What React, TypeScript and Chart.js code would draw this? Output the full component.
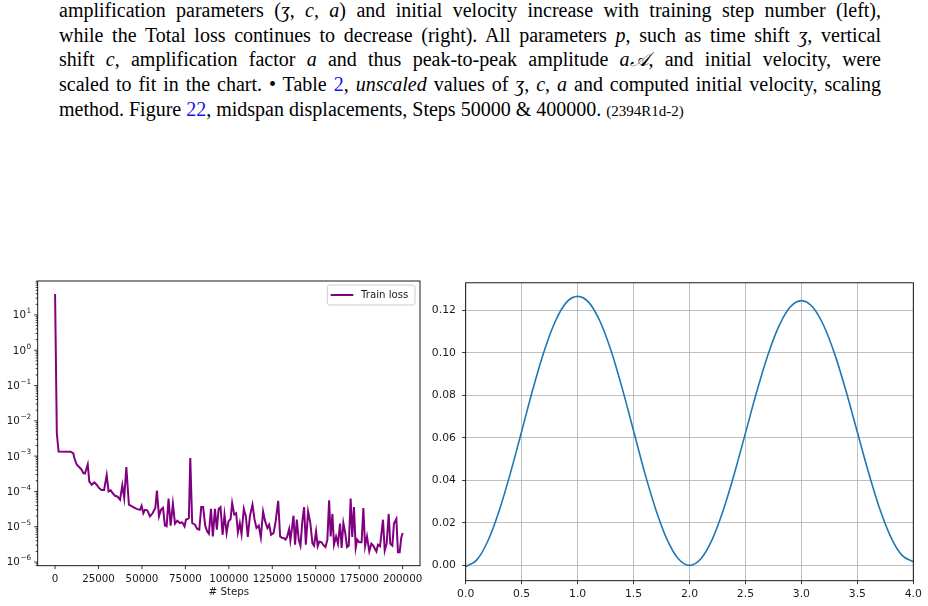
import React, { useEffect, useLayoutEffect, useRef } from 'react';
import { Chart, registerables } from 'chart.js';

Chart.register(...registerables);

// ---------------- data ----------------
const lossSteps = [
  0, 1000, 2000, 9000, 10500, 11100, 12500, 14400, 15300, 16300,
  17200, 18800, 19700, 21100, 22600, 23900, 25300, 26800, 28200, 29700,
  30800, 32000, 33100, 34500, 35800, 37400, 38700, 39800, 41000, 42500,
  45000, 46900, 48900, 49800, 50800, 51700, 53100, 54600, 56100, 57700,
  58600, 59800, 60900, 62100, 63200, 64200, 65300, 66500, 67800, 69000,
  70300, 71800, 73200, 74500, 75300, 76200, 77000, 77800, 78900, 80500,
  81800, 83000, 84100, 85200, 86400, 87500, 88500, 89700, 90800, 92000,
  93100, 94100, 95200, 96400, 97500, 98700, 99800, 101000, 101900, 103100,
  104200, 105200, 106300, 107300, 108600, 109800, 110900, 112100, 113600, 114800,
  115900, 117200, 118400, 119700, 120900, 122200, 123200, 124300, 125700, 126800,
  128400, 129500, 130700, 131600, 132600, 133500, 134700, 135400, 136400, 137200,
  138100, 139100, 140200, 141200, 142300, 143300, 144300, 145600, 146900, 148100,
  149000, 150200, 151100, 152100, 153300, 154200, 155600, 156700, 157700, 158600,
  159600, 160500, 161700, 162800, 164000, 164900, 165900, 167000, 168000, 169000,
  170100, 171000, 172000, 173000, 173900, 175100, 176400, 177400, 178400, 179500,
  180800, 182000, 183100, 184900, 185800, 187000, 188700, 189700, 190800, 192000,
  192900, 194100, 195000, 196400, 197300, 198300, 199200, 200000,
];
const trainLoss = [
  39.4, 4.5e-3, 1.35e-3, 1.33e-3, 1.2e-3, 8.8e-4, 5.7e-4, 4.6e-4, 4.1e-4, 3.3e-4,
  3.2e-4, 5.8e-4, 1.9e-4, 1.55e-4, 1.8e-4, 1.55e-4, 1.25e-4, 1.1e-4, 1.1e-4, 2.9e-4,
  1.0e-4, 1.07e-4, 9.0e-5, 7.5e-5, 7.2e-5, 5.8e-5, 1.5e-4, 6.5e-5, 4.9e-4, 4.2e-5,
  3.6e-5, 3.2e-5, 3.0e-5, 3.9e-5, 2.4e-5, 3.0e-5, 2.9e-5, 1.96e-5, 2.4e-5, 3.4e-5,
  1.05e-4, 1.96e-5, 3.0e-5, 3.4e-5, 1.07e-5, 1.02e-5, 6.3e-5, 1.07e-5, 4.5e-5, 1.22e-5,
  1.48e-5, 1.27e-5, 1.33e-5, 1.02e-5, 1.58e-5, 1.65e-5, 1.76e-5, 8.8e-4, 1.27e-5, 1.14e-5,
  8.6e-6, 8.2e-6, 3.6e-5, 3.6e-5, 1.07e-5, 7.4e-6, 6.3e-6, 3.2e-5, 5.3e-6, 3.2e-5,
  8.2e-6, 3.2e-5, 3.6e-5, 5.9e-6, 2.2e-5, 6.6e-6, 1.41e-5, 1.65e-5, 4.7e-5, 2.2e-5,
  2.4e-5, 6.9e-6, 1.27e-5, 6.2e-6, 3.2e-5, 1.96e-5, 5.1e-6, 1.96e-5, 4.2e-5, 1.58e-5,
  9.2e-6, 1.07e-5, 5.0e-6, 2.7e-5, 1.41e-5, 9.2e-6, 1.14e-5, 5.9e-6, 6.6e-6, 1.27e-5,
  5.4e-5, 5.3e-6, 4.8e-6, 4.8e-6, 4.3e-6, 5.1e-6, 8.6e-6, 4.1e-6, 9.8e-6, 2.05e-5,
  3.1e-6, 1.58e-5, 4.3e-6, 2.9e-6, 1.41e-5, 3.6e-5, 3.1e-6, 2.7e-5, 1.27e-5, 3.4e-6,
  2.9e-6, 7.4e-6, 2.8e-6, 3.8e-6, 3.6e-6, 3.1e-6, 2.65e-6, 4.3e-6, 5.6e-5, 5.3e-6,
  2.3e-5, 3.1e-6, 5.3e-6, 3.3e-6, 1.22e-5, 2.5e-6, 1.27e-5, 6.6e-6, 2.65e-6, 2.9e-6,
  6.3e-5, 5.1e-6, 3.6e-5, 2.5e-6, 4.3e-6, 3.6e-6, 3.6e-6, 3.4e-5, 2.8e-6, 5.3e-6,
  2.0e-6, 3.3e-6, 2.9e-6, 2.0e-6, 3.1e-6, 2.8e-6, 1.58e-5, 2.1e-6, 3.3e-6, 2.3e-5,
  3.3e-6, 2.9e-6, 1.22e-5, 1.65e-5, 1.9e-6, 1.9e-6, 4.8e-6, 6.6e-6,
];
const stepTicks = [0, 25000, 50000, 75000, 100000, 125000, 150000, 175000, 200000];
const lossTickExponents = [-6, -5, -4, -3, -2, -1, 0, 1];

const dispTime = [
  0.0, 0.1, 0.2, 0.3, 0.4, 0.5, 0.6, 0.7, 0.8, 0.9,
  1.0, 1.1, 1.2, 1.3, 1.4, 1.5, 1.6, 1.7, 1.8, 1.9,
  2.0, 2.1, 2.2, 2.3, 2.4, 2.5, 2.6, 2.7, 2.8, 2.9,
  3.0, 3.1, 3.2, 3.3, 3.4, 3.5, 3.6, 3.7, 3.8, 3.9, 4.0,
];
const midspanDisp = [
  -0.0005, 0.0026, 0.0117, 0.0258, 0.0435, 0.0630, 0.0828, 0.1006, 0.1147, 0.1237,
  0.1265, 0.1237, 0.1148, 0.1008, 0.0830, 0.0633, 0.0435, 0.0261, 0.0121, 0.0031,
  0.0000, 0.0030, 0.0119, 0.0257, 0.0430, 0.0622, 0.0815, 0.0988, 0.1126, 0.1215,
  0.1245, 0.1215, 0.1127, 0.0990, 0.0818, 0.0627, 0.0437, 0.0266, 0.0132, 0.0047, 0.0017,
];
const timeTicks = [0, 0.5, 1.0, 1.5, 2.0, 2.5, 3.0, 3.5, 4.0];
const dispTicks = [0, 0.02, 0.04, 0.06, 0.08, 0.10, 0.12];

// ---------------- helpers ----------------
const INK = '#1a1a1a';
const FONT = '"DejaVu Sans", sans-serif';

const framePlugin = {
  id: 'frame',
  afterDatasetsDraw(chart: any) {
    const { ctx, chartArea: a } = chart;
    ctx.save();
    ctx.strokeStyle = '#000';
    ctx.lineWidth = 0.9;
    ctx.strokeRect(a.left, a.top, a.right - a.left, a.bottom - a.top);
    ctx.restore();
  },
};

// tick marks (major + minor) and power-of-ten labels for the loss chart
const logTicksPlugin = {
  id: 'logTicks',
  afterDatasetsDraw(chart: any) {
    const { ctx, chartArea: a, scales } = chart;
    const xs = scales.x;
    const ys = scales.y;
    ctx.save();
    ctx.strokeStyle = '#000';
    ctx.lineWidth = 0.8;
    ctx.beginPath();
    xs.ticks.forEach((t: any) => {
      const px = xs.getPixelForValue(t.value);
      ctx.moveTo(px, a.bottom);
      ctx.lineTo(px, a.bottom + 3.5);
    });
    const lo = Math.floor(Math.log10(ys.min));
    const hi = Math.ceil(Math.log10(ys.max));
    for (let e = lo; e <= hi; e++) {
      for (let n = 1; n <= 9; n++) {
        const v = n * Math.pow(10, e);
        if (v < ys.min || v > ys.max) continue;
        const py = ys.getPixelForValue(v);
        const len = n === 1 ? 3.5 : 2;
        ctx.moveTo(a.left, py);
        ctx.lineTo(a.left - len, py);
      }
    }
    ctx.stroke();

    // labels: "10" with a raised exponent
    ctx.fillStyle = INK;
    ctx.textBaseline = 'middle';
    ctx.textAlign = 'left';
    const baseFont = `10.3px ${FONT}`;
    const expFont = `7.3px ${FONT}`;
    ys.ticks.forEach((t: any) => {
      const e = Math.round(Math.log10(t.value));
      const py = ys.getPixelForValue(t.value);
      const expText = e < 0 ? '\u2212' + String(-e) : String(e);
      ctx.font = expFont;
      const ew = ctx.measureText(expText).width;
      ctx.font = baseFont;
      const bw = ctx.measureText('10').width;
      const right = a.left - 6.5;
      const x0 = right - ew - bw - 0.6;
      ctx.fillText('10', x0, py + 0.8);
      ctx.font = expFont;
      ctx.fillText(expText, x0 + bw + 0.6, py - 3.6);
    });
    ctx.restore();
  },
};

const legendPlugin = {
  id: 'boxLegend',
  afterDatasetsDraw(chart: any) {
    const { ctx, chartArea: a } = chart;
    const ds = chart.data.datasets[0];
    const w = 87.7;
    const h = 20;
    const x = a.right - 5 - w;
    const y = a.top + 4;
    ctx.save();
    ctx.beginPath();
    (ctx as any).roundRect(x, y, w, h, 2.5);
    ctx.fillStyle = 'rgba(255,255,255,0.8)';
    ctx.fill();
    ctx.strokeStyle = '#cccccc';
    ctx.lineWidth = 1;
    ctx.stroke();
    ctx.beginPath();
    ctx.moveTo(x + 3.4, y + h / 2);
    ctx.lineTo(x + 26, y + h / 2);
    ctx.strokeStyle = ds.borderColor;
    ctx.lineWidth = 2;
    ctx.stroke();
    ctx.fillStyle = INK;
    ctx.font = `10.2px ${FONT}`;
    ctx.textBaseline = 'middle';
    ctx.textAlign = 'left';
    ctx.fillText(ds.label, x + 33.7, y + h / 2 + 0.5);
    ctx.restore();
  },
};

function LossChart() {
  const ref = useRef<HTMLCanvasElement>(null);
  useEffect(() => {
    const chart = new Chart(ref.current as HTMLCanvasElement, {
      type: 'line',
      data: {
        datasets: [
          {
            label: 'Train loss',
            data: lossSteps.map((s, i) => ({ x: s, y: trainLoss[i] })),
            borderColor: '#800080',
            borderWidth: 2,
            pointRadius: 0,
            tension: 0,
            fill: false,
          },
        ],
      },
      options: {
        animation: false,
        responsive: false,
        devicePixelRatio: 1,
        events: [],
        layout: { padding: { left: 0, top: 11, right: 10, bottom: 0 } },
        plugins: { legend: { display: false }, tooltip: { enabled: false }, title: { display: false } },
        scales: {
          x: {
            type: 'linear',
            min: -10000,
            max: 210000,
            afterBuildTicks: (s: any) => {
              s.ticks = stepTicks.map((v) => ({ value: v }));
            },
            afterFit: (s: any) => {
              s.height = 40.3;
            },
            grid: { display: false, drawTicks: false, tickLength: 0 },
            border: { display: false },
            ticks: {
              autoSkip: false,
              maxRotation: 0,
              padding: 7,
              color: INK,
              font: { family: FONT, size: 10.3 },
              callback: (v: any) => String(v),
            },
            title: {
              display: true,
              text: '# Steps',
              color: INK,
              font: { family: FONT, size: 10.3 },
              padding: { top: 0, bottom: 7 },
            },
          },
          y: {
            type: 'logarithmic',
            min: 7.85e-7,
            max: 91.6,
            afterBuildTicks: (s: any) => {
              s.ticks = lossTickExponents.map((e) => ({ value: Math.pow(10, e), major: true }));
            },
            afterFit: (s: any) => {
              s.width = 37.7;
            },
            grid: { display: false, drawTicks: false, tickLength: 0 },
            border: { display: false },
            ticks: { display: false, autoSkip: false },
          },
        },
      } as any,
      plugins: [framePlugin, logTicksPlugin, legendPlugin],
    });
    return () => chart.destroy();
  }, []);
  return (
    <canvas
      ref={ref}
      width={430}
      height={336}
      style={{ position: 'absolute', left: 0, top: 270, width: 430, height: 336 }}
    />
  );
}

function DispChart() {
  const ref = useRef<HTMLCanvasElement>(null);
  useEffect(() => {
    const chart = new Chart(ref.current as HTMLCanvasElement, {
      type: 'line',
      data: {
        datasets: [
          {
            label: 'midspan displacement',
            data: dispTime.map((t, i) => ({ x: t, y: midspanDisp[i] })),
            borderColor: '#1f77b4',
            borderWidth: 1.6,
            pointRadius: 0,
            cubicInterpolationMode: 'monotone',
            fill: false,
          },
        ],
      },
      options: {
        animation: false,
        responsive: false,
        devicePixelRatio: 1,
        events: [],
        layout: { padding: { left: 0, top: 11.7, right: 14.7, bottom: 0 } },
        plugins: { legend: { display: false }, tooltip: { enabled: false }, title: { display: false } },
        scales: {
          x: {
            type: 'linear',
            min: 0,
            max: 4,
            afterBuildTicks: (s: any) => {
              s.ticks = timeTicks.map((v) => ({ value: v }));
            },
            afterFit: (s: any) => {
              s.height = 25.3;
            },
            grid: { color: '#b0b0b0', lineWidth: 0.8, drawTicks: true, tickLength: 3.5, tickColor: '#000', tickWidth: 0.8 },
            border: { display: false },
            ticks: {
              autoSkip: false,
              maxRotation: 0,
              padding: 3.3,
              color: INK,
              font: { family: FONT, size: 10.8 },
              callback: (v: any) => Number(v).toFixed(1),
            },
          },
          y: {
            type: 'linear',
            min: -0.0072,
            max: 0.1329,
            afterBuildTicks: (s: any) => {
              s.ticks = dispTicks.map((v) => ({ value: v }));
            },
            afterFit: (s: any) => {
              s.width = 45.7;
            },
            grid: { color: '#b0b0b0', lineWidth: 0.8, drawTicks: true, tickLength: 3.5, tickColor: '#000', tickWidth: 0.8 },
            border: { display: false },
            ticks: {
              autoSkip: false,
              padding: 6.3,
              color: INK,
              font: { family: FONT, size: 10.8 },
              callback: (v: any) => Number(v).toFixed(2),
            },
          },
        },
      } as any,
      plugins: [framePlugin],
    });
    return () => chart.destroy();
  }, []);
  return (
    <canvas
      ref={ref}
      width={508}
      height={336}
      style={{ position: 'absolute', left: 420, top: 270, width: 508, height: 336 }}
    />
  );
}

// ---------------- caption text ----------------
const M = ({ children }: { children: React.ReactNode }) => (
  <span style={{ fontStyle: 'italic' }}>{children}</span>
);
const Blue = ({ children }: { children: React.ReactNode }) => (
  <span style={{ color: 'rgb(20,20,235)' }}>{children}</span>
);

const CAP_LEFT = 59;
const CAP_WIDTH = 822;
const CAP_TOP = -2;
const CAP_STEP = 24.7;

function Caption() {
  const refs = useRef<(HTMLSpanElement | null)[]>([]);
  const lines: React.ReactNode[] = [
    <>amplification parameters (<M>ʒ</M>, <M>c</M>, <M>a</M>) and initial velocity increase with training step number (left),</>,
    <>while the Total loss continues to decrease (right). All parameters <M>p</M>, such as time shift <M>ʒ</M>, vertical</>,
    <>shift <M>c</M>, amplification factor <M>a</M> and thus peak-to-peak amplitude <M>a𝒜</M>, and initial velocity, were</>,
    <>scaled to fit in the chart. • Table <Blue>2</Blue>, <M>unscaled</M> values of <M>ʒ</M>, <M>c</M>, <M>a</M> and computed initial velocity, scaling</>,
    <>method. Figure <Blue>22</Blue>, midspan displacements, Steps 50000 &amp; 400000. <span style={{ fontSize: 15 }}>(2394R1d-2)</span></>,
  ];
  const justify = () => {
    refs.current.forEach((el, i) => {
      if (!el || i === lines.length - 1) return;
      el.style.wordSpacing = '0px';
      const w = el.getBoundingClientRect().width;
      const spaces = (el.textContent || '').split(' ').length - 1;
      if (spaces > 0) el.style.wordSpacing = `${(CAP_WIDTH - w) / spaces}px`;
    });
  };
  useLayoutEffect(() => {
    justify();
    const fonts = (document as any).fonts;
    if (fonts && fonts.ready) fonts.ready.then(justify);
  }, []);
  return (
    <>
      {lines.map((ln, i) => (
        <span
          key={i}
          ref={(el) => {
            refs.current[i] = el;
          }}
          style={{
            position: 'absolute',
            left: CAP_LEFT,
            top: CAP_TOP + i * CAP_STEP,
            whiteSpace: 'nowrap',
            display: 'inline-block',
            fontFamily: '"Liberation Serif", "DejaVu Serif", serif',
            fontSize: 20,
            lineHeight: '25px',
            color: '#000',
          }}
        >
          {ln}
        </span>
      ))}
    </>
  );
}

export default function App() {
  return (
    <div
      style={{
        position: 'fixed',
        left: 0,
        top: 0,
        width: 928,
        height: 606,
        background: '#fff',
        overflow: 'hidden',
      }}
    >
      <Caption />
      <LossChart />
      <DispChart />
    </div>
  );
}
